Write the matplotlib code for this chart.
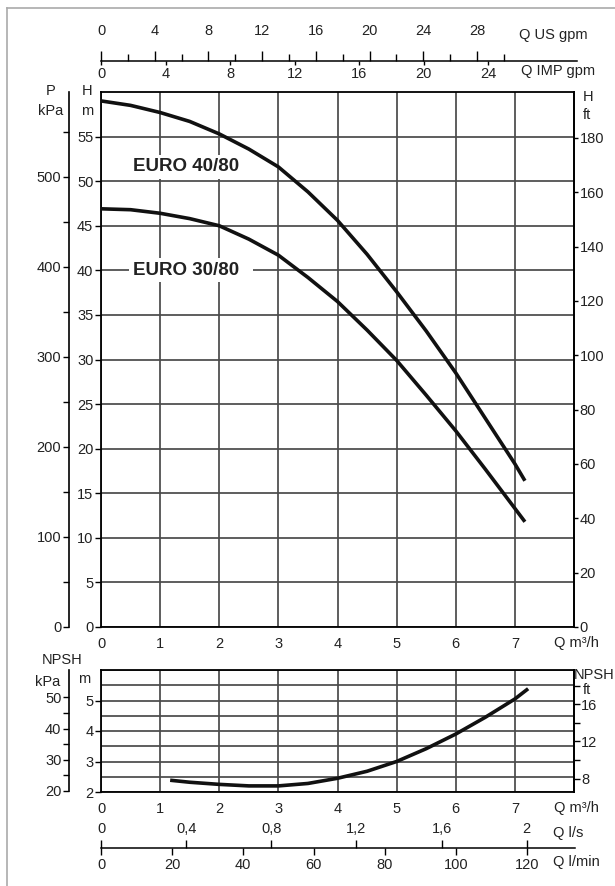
import matplotlib
matplotlib.use('Agg')
import matplotlib.pyplot as plt
from matplotlib.lines import Line2D
from matplotlib.ticker import MultipleLocator, FixedLocator

plt.rcParams['font.family'] = ['Liberation Sans', 'DejaVu Sans']
FS = 10.5
plt.rcParams['font.size'] = FS

# ---------------- data ----------------
q_pts = [0, 0.5, 1, 1.5, 2, 2.5, 3, 3.5, 4, 4.5, 5, 5.5, 6, 6.5, 7, 7.17]
h_euro40 = [59.0, 58.5, 57.7, 56.7, 55.3, 53.6, 51.6, 48.8, 45.6, 41.8, 37.6, 33.2, 28.5, 23.4, 18.3, 16.4]
h_euro30 = [46.9, 46.8, 46.4, 45.8, 45.0, 43.5, 41.7, 39.2, 36.5, 33.3, 29.9, 26.0, 22.0, 17.7, 13.3, 11.8]
label40 = "EURO 40/80"
label30 = "EURO 30/80"

q_npsh = [1.2, 1.5, 2, 2.5, 3, 3.5, 4, 4.5, 5, 5.5, 6, 6.5, 7, 7.2]
npsh_m = [2.38, 2.32, 2.25, 2.2, 2.2, 2.28, 2.45, 2.68, 3.0, 3.42, 3.9, 4.45, 5.05, 5.35]

q_ticks = [0, 1, 2, 3, 4, 5, 6, 7]
h_m_ticks = [0, 5, 10, 15, 20, 25, 30, 35, 40, 45, 50, 55]
p_kpa_ticks = [0, 100, 200, 300, 400, 500]
h_ft_ticks = [0, 20, 40, 60, 80, 100, 120, 140, 160, 180]
npsh_m_ticks = [2, 3, 4, 5]
npsh_kpa_ticks = [20, 30, 40, 50]
npsh_kpa_minor = [25, 35, 45]
npsh_ft_ticks = [8, 12, 16]
npsh_ft_minor = [10, 14, 18]
us_gpm_ticks = [0, 4, 8, 12, 16, 20, 24, 28]
us_gpm_minor = [2, 6, 10, 14, 18, 22, 26, 30]
imp_gpm_ticks = [0, 4, 8, 12, 16, 20, 24]
ls_ticks = [0, 0.4, 0.8, 1.2, 1.6, 2.0]
ls_labels = ["0", "0,4", "0,8", "1,2", "1,6", "2"]
lmin_ticks = [0, 20, 40, 60, 80, 100, 120]

M_PER_KPA_MAIN = 0.101
M_PER_KPA_NPSH = 0.102
M_PER_FT = 0.3048
USGPM_PER_M3H = 4.403
IMPGPM_PER_M3H = 3.666
LS_PER_M3H = 1 / 3.6
LMIN_PER_M3H = 1000 / 60

# ---------------- layout helpers ----------------
W, H = 615, 886
fig = plt.figure(figsize=(W / 100, H / 100), dpi=100)


def fx(px):
    return px / W


def fy(py):
    return 1 - py / H


TXT = '#222222'
GRID = '#4a4a4a'
L, R = 101, 574
QMAX = 8.0

# ---------------- main axes ----------------
mt, mb = 92, 627
ax = fig.add_axes([fx(L), fy(mb), (R - L) / W, (mb - mt) / H])
ax.set_xlim(0, QMAX)
ax.set_ylim(0, 60)
ax.set_xticks(q_ticks)
ax.set_yticks(h_m_ticks)
ax.grid(True, color=GRID, lw=1.25)
ax.set_axisbelow(True)
ax.tick_params(axis='x', length=0, pad=7, labelcolor=TXT, labelsize=FS)
ax.tick_params(axis='y', direction='out', length=4, width=1, pad=1.5, labelcolor=TXT, labelsize=FS)
for s in ax.spines.values():
    s.set_color('black')
    s.set_linewidth(1.3)

ax.plot(q_pts, h_euro40, color='#111111', lw=2.6, solid_capstyle='butt', zorder=5)
ax.plot(q_pts, h_euro30, color='#111111', lw=2.6, solid_capstyle='butt', zorder=5)

bb = dict(facecolor='white', edgecolor='none', pad=2.5)
ax.text(0.54, 51.6, label40, fontsize=13.5, fontweight='bold', color=TXT,
        ha='left', va='center', bbox=bb, zorder=4)
ax.text(0.54, 40.0, label30 + "  ", fontsize=13.5, fontweight='bold', color=TXT,
        ha='left', va='center', bbox=bb, zorder=4)

# kPa axis (left, offset)
axp = ax.twinx()
axp.set_ylim(0, 60 / M_PER_KPA_MAIN)
for k in ['right', 'top', 'bottom']:
    axp.spines[k].set_visible(False)
axp.spines['left'].set_position(('axes', -(L - 69) / (R - L)))
axp.spines['left'].set_linewidth(1.2)
axp.yaxis.set_ticks_position('left')
axp.yaxis.set_label_position('left')
axp.set_yticks(p_kpa_ticks)
axp.yaxis.set_minor_locator(MultipleLocator(50))
axp.tick_params(axis='y', which='both', direction='out', length=4, width=1, pad=1.5,
                labelcolor=TXT, labelsize=FS)

# ft axis (right)
axf = ax.twinx()
axf.set_ylim(0, 60 / M_PER_FT)
for k in ['left', 'top', 'bottom']:
    axf.spines[k].set_visible(False)
axf.spines['right'].set_linewidth(1.3)
axf.set_yticks(h_ft_ticks)
axf.tick_params(axis='y', direction='out', length=3, width=1, pad=1,
                labelcolor=TXT, labelsize=FS)

# ---------------- NPSH axes ----------------
nt, nb = 670, 792
ax2 = fig.add_axes([fx(L), fy(nb), (R - L) / W, (nb - nt) / H])
ax2.set_xlim(0, QMAX)
ax2.set_ylim(2, 6)
ax2.set_xticks(q_ticks)
ax2.set_yticks(npsh_m_ticks)
ax2.yaxis.set_minor_locator(MultipleLocator(0.5))
ax2.grid(True, which='major', color=GRID, lw=1.25)
ax2.grid(True, which='minor', axis='y', color=GRID, lw=1.25)
ax2.set_axisbelow(True)
ax2.tick_params(axis='x', length=0, pad=7, labelcolor=TXT, labelsize=FS)
ax2.tick_params(axis='y', which='major', direction='out', length=4, width=1, pad=1.5,
                labelcolor=TXT, labelsize=FS)
ax2.tick_params(axis='y', which='minor', length=0)
for s in ax2.spines.values():
    s.set_color('black')
    s.set_linewidth(1.3)
ax2.plot(q_npsh, npsh_m, color='#111111', lw=2.6, zorder=5)

axnp = ax2.twinx()
axnp.set_ylim(2 / M_PER_KPA_NPSH, 6 / M_PER_KPA_NPSH)
for k in ['right', 'top', 'bottom']:
    axnp.spines[k].set_visible(False)
axnp.spines['left'].set_position(('axes', -(L - 69) / (R - L)))
axnp.spines['left'].set_linewidth(1.2)
axnp.spines['left'].set_bounds(20, 6 / M_PER_KPA_NPSH)
axnp.yaxis.set_ticks_position('left')
axnp.set_yticks(npsh_kpa_ticks)
axnp.yaxis.set_minor_locator(FixedLocator(npsh_kpa_minor))
axnp.tick_params(axis='y', which='both', direction='out', length=4, width=1, pad=1.5,
                 labelcolor=TXT, labelsize=FS)

axnf = ax2.twinx()
axnf.set_ylim(2 / M_PER_FT, 6 / M_PER_FT)
for k in ['left', 'top', 'bottom']:
    axnf.spines[k].set_visible(False)
axnf.spines['right'].set_linewidth(1.3)
axnf.set_yticks(npsh_ft_ticks)
axnf.yaxis.set_minor_locator(FixedLocator(npsh_ft_minor))
axnf.tick_params(axis='y', which='both', direction='out', length=4, width=1, pad=1,
                 labelcolor=TXT, labelsize=FS)

# ---------------- top flow scale (gpm) ----------------
ext_r = 577
qext = QMAX * (ext_r - L) / (R - L)
line_y = 61
axt = fig.add_axes([fx(L), fy(line_y), (ext_r - L) / W, 0.0005])
axt.patch.set_visible(False)
for k in ['left', 'right', 'top']:
    axt.spines[k].set_visible(False)
axt.spines['bottom'].set_linewidth(1.1)
axt.set_yticks([])
axt.set_xlim(0, qext * IMPGPM_PER_M3H)
axt.set_xticks(imp_gpm_ticks)
axt.tick_params(axis='x', direction='out', length=3, width=1, pad=1, labelcolor=TXT, labelsize=FS)

axt2 = axt.twiny()
for s in axt2.spines.values():
    s.set_visible(False)
axt2.set_xlim(0, qext * USGPM_PER_M3H)
axt2.set_xticks(us_gpm_ticks)
axt2.xaxis.set_minor_locator(FixedLocator(us_gpm_minor))
axt2.tick_params(axis='x', which='major', direction='out', length=7, width=1, pad=9,
                 labelcolor=TXT, labelsize=FS)
axt2.tick_params(axis='x', which='minor', direction='out', length=5, width=1)

# ---------------- bottom flow scale (l/s, l/min) ----------------
bline_y = 848
ext_rb = 575
qextb = QMAX * (ext_rb - L) / (R - L)
axb = fig.add_axes([fx(L), fy(bline_y), (ext_rb - L) / W, 0.0005])
axb.patch.set_visible(False)
for k in ['left', 'right', 'top']:
    axb.spines[k].set_visible(False)
axb.spines['bottom'].set_linewidth(1.1)
axb.set_yticks([])
axb.set_xlim(0, qextb * LMIN_PER_M3H)
axb.set_xticks(lmin_ticks)
axb.tick_params(axis='x', direction='out', length=5, width=1, pad=2.5, labelcolor=TXT, labelsize=FS)

axb2 = axb.twiny()
for s in axb2.spines.values():
    s.set_visible(False)
axb2.set_xlim(0, qextb * LS_PER_M3H)
axb2.set_xticks(ls_ticks)
axb2.set_xticklabels(ls_labels)
axb2.tick_params(axis='x', direction='out', length=6, width=1, pad=2.5, labelcolor=TXT, labelsize=FS)

# ---------------- unit labels ----------------
def t(x, y, s, **kw):
    fig.text(fx(x), fy(y), s, ha='center', va='center', color=TXT, fontsize=FS, **kw)

t(553, 35, "Q US gpm")
t(558, 71, "Q IMP gpm")
t(51, 91, "P")
t(51, 111, "kPa")
t(87, 91, "H")
t(87, 111, "m")
t(588, 97, "H")
t(587, 115, "ft")
t(576, 643, "Q m³/h")
t(62, 660, "NPSH")
t(48, 682, "kPa")
t(84, 679, "m")
t(594, 675, "NPSH")
t(587, 690, "ft")
t(576, 808, "Q m³/h")
t(568, 833, "Q l/s")
t(576, 862, "Q l/min")

# border lines
fig.add_artist(Line2D([fx(7), fx(7)], [fy(8), 0], color='#aaaaaa', lw=1.2))
fig.add_artist(Line2D([fx(7), 1], [fy(8), fy(8)], color='#aaaaaa', lw=1.2))

fig.savefig('out.png', dpi=100)
